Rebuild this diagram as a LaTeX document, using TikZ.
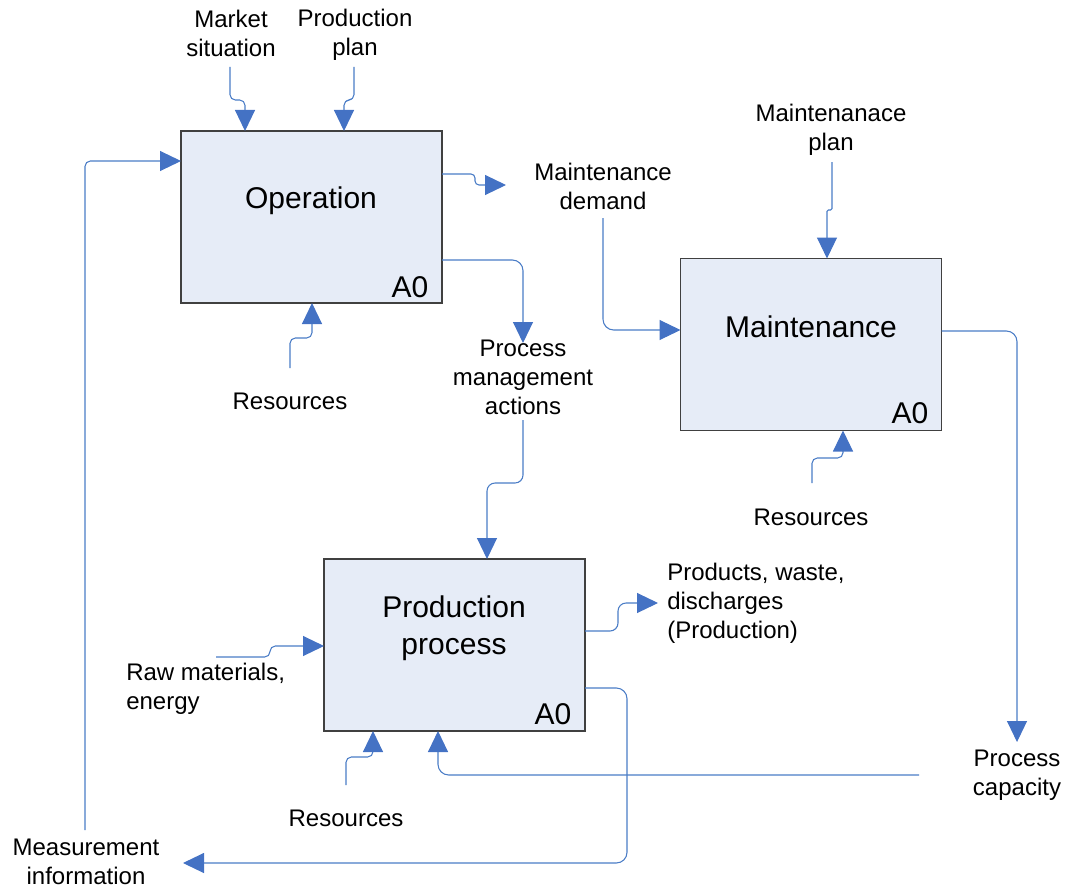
\documentclass[tikz,border=0pt]{standalone}
\usepackage{fontspec}
\setmainfont{Liberation Sans}
\usetikzlibrary{arrows.meta}
\definecolor{boxfill}{HTML}{E6ECF7}
\definecolor{boxline}{HTML}{404040}
\definecolor{flowblue}{HTML}{4A7CC6}
\definecolor{headblue}{HTML}{4472C4}

\begin{document}
\begin{tikzpicture}[x=0.75pt,y=-0.75pt,
  activity/.style={draw=boxline, fill=boxfill, line width=0.9pt,
    minimum width=195.75pt, minimum height=129pt, inner sep=0pt, outer sep=0pt},
  bigtxt/.style={font=\fontsize{22.5}{27.75}\selectfont, align=center, inner sep=0pt},
  smalltxt/.style={font=\fontsize{18}{21.75}\selectfont, align=center, inner sep=0pt},
  flow/.style={draw=flowblue, line width=0.8pt, rounded corners=4pt,
    -{Triangle[length=15.75pt,width=15pt,color=headblue]}},
]
\useasboundingbox (0,0) rectangle (1069,888);

% activity boxes
\node[activity] (op) at (311.5,217) {};
\node[activity] (mt) at (811,344.5) {};
\node[activity] (pp) at (454.5,645) {};

% box titles and numbers
\node[bigtxt] (opl) at (311,201) {Operation};
\node[bigtxt] (opn) at (410,287) {A0};
\node[bigtxt] (mtl) at (811,327) {Maintenance};
\node[bigtxt] (mtn) at (910,413) {A0};
\node[bigtxt] (ppl) at (454,628) {Production\\process};
\node[bigtxt] (ppn) at (553,714) {A0};

% flow labels
\node[smalltxt] (ms) at (231,33) {Market\\situation};
\node[smalltxt] (plan) at (355,35) {Production\\plan};
\node[smalltxt] (opr) at (290,401) {Resources};
\node[smalltxt] (pma) at (523,377) {Process\\management\\actions};
\node[smalltxt] (md) at (603,186) {Maintenance\\demand};
\node[smalltxt] (mp) at (831,130) {Maintenanace\\plan};
\node[smalltxt] (mtr) at (811,517) {Resources};
\node[smalltxt, align=left, anchor=west] (raw) at (126,689) {Raw materials,\\energy};
\node[smalltxt, align=left, anchor=west] (prod) at (667,603) {Products, waste,\\discharges\\(Production)};
\node[smalltxt] (pc) at (1017,775) {Process\\capacity};
\node[smalltxt] (ppr) at (346,818) {Resources};
\node[smalltxt] (mi) at (86,862) {Measurement\\information};

% free ends of connectors
\coordinate (ms-s) at (230,67);
\coordinate (plan-s) at (354,67);
\coordinate (mi-n) at (85,830);
\coordinate (md-out) at (506,185);
\coordinate (pma-n) at (523,343);
\coordinate (pma-s) at (523,420);
\coordinate (opr-n) at (290,368);
\coordinate (md-s) at (603,218);
\coordinate (mp-s) at (832,162);
\coordinate (pc-n) at (1017,742);
\coordinate (pc-w) at (919,775);
\coordinate (mtr-n) at (812,483);
\coordinate (raw-e) at (216,657);
\coordinate (prod-w) at (658,603);
\coordinate (mi-e) at (183,863);
\coordinate (ppr-n) at (346,785);

% controls and inputs of Operation
\draw[flow] (ms-s) -- (230,100) -- (245,100) -- (245,0 |- op.north);
\draw[flow] (plan-s) -- (354,100) -- (344,100) -- (344,0 |- op.north);
\draw[flow] (mi-n) -- (85,161) -- (op.west |- 0,161);
\draw[flow] (opr-n) -- (290,338) -- (312,338) -- (312,0 |- op.south);

% outputs of Operation
\draw[flow, rounded corners=3pt] (op.east |- 0,174) -- (475,174) -- (475,185) -- (md-out);
\draw[flow, rounded corners=8pt] (op.east |- 0,260) -- (523,260) -- (pma-n);

% Maintenance
\draw[flow, rounded corners=8pt] (md-s) -- (603,330) -- (mt.west |- 0,330);
\draw[flow, rounded corners=1pt] (mp-s) -- (832,210) -- (827,210) -- (827,0 |- mt.north);
\draw[flow] (mtr-n) -- (812,458) -- (843,458) -- (843,0 |- mt.south);
\draw[flow, rounded corners=8pt] (mt.east |- 0,331) -- (1017,331) -- (pc-n);

% Production process
\draw[flow, rounded corners=6pt] (pma-s) -- (523,483) -- (487,483) -- (487,0 |- pp.north);
\draw[flow] (raw-e) -- (270,657) -- (270,646) -- (pp.west |- 0,646);
\draw[flow, rounded corners=6pt] (pp.east |- 0,631) -- (618,631) -- (618,603) -- (prod-w);
\draw[flow, rounded corners=8pt] (pp.east |- 0,688) -- (627,688) -- (627,863) -- (mi-e);
\draw[flow] (ppr-n) -- (346,757) -- (373,757) -- (373,0 |- pp.south);
\draw[flow, rounded corners=8pt] (pc-w) -- (438,775) -- (438,0 |- pp.south);
\end{tikzpicture}
\end{document}
